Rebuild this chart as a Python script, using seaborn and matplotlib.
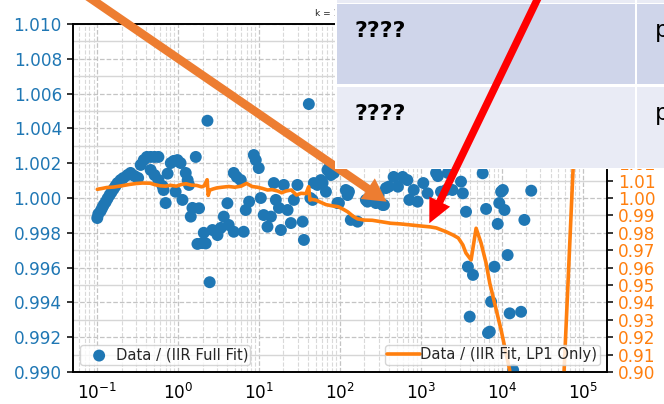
import matplotlib
matplotlib.use("Agg")
import matplotlib.pyplot as plt
import seaborn as sns
import numpy as np
from matplotlib.ticker import MultipleLocator, FormatStrFormatter, LogLocator, NullFormatter
from matplotlib.patches import Rectangle, FancyArrow

# ---------------- data ----------------
x_full = [0.100, 0.103, 0.110, 0.115, 0.120, 0.127, 0.134, 0.142, 0.150, 0.159,
          0.168, 0.178, 0.194, 0.210, 0.237, 0.258, 0.290, 0.320, 0.344, 0.375,
          0.410, 0.457, 0.510, 0.570, 0.457, 0.510, 0.570, 0.640, 0.660, 0.700,
          0.740, 0.810, 0.880, 0.980, 1.07, 0.93, 1.13, 1.24, 1.31, 1.36,
          1.43, 1.50, 1.65, 1.81, 1.73, 1.99, 2.07, 2.19, 2.30, 2.45,
          2.65, 3.06, 3.36, 3.66, 4.06, 4.21, 4.86, 5.30, 5.94, 4.86,
          6.45, 6.84, 7.53, 8.60, 9.10, 9.90, 10.5, 11.4, 12.7, 14.0,
          15.2, 16.1, 17.6, 18.6, 20.2, 22.5, 24.7, 26.9, 29.8, 34.5,
          35.8, 41.2, 43.0, 45.8, 47.5, 52.5, 58.0, 60.9, 67.0, 70.0,
          73.0, 77.0, 84.0, 93.0, 97.0, 118, 124, 129, 136, 165,
          209, 219, 241, 278, 300, 336, 349, 370, 400, 460,
          520, 595, 680, 720, 815, 910, 1070, 1210, 1540, 1620,
          1770, 2050, 2150, 2450, 3130, 3300, 3610, 3810, 4400, 4010,
          5800, 6390, 6750, 7100, 7370, 8100, 8900, 9300, 9800, 10300,
          10800, 11800, 12500, 13800, 17300, 19000, 23100]
y_full = [0.99885, 0.99908, 0.99925, 0.99943, 0.99960, 0.99977, 0.99997, 1.00017, 1.00034, 1.00052,
          1.00069, 1.00086, 1.00103, 1.00115, 1.00132, 1.00144, 1.00126, 1.00115, 1.00190, 1.00218,
          1.00236, 1.00236, 1.00236, 1.00236, 1.00161, 1.00132, 1.00103, 1.00069, 1.00046, 0.99971,
          1.00140, 1.00201, 1.00213, 1.00218, 1.00201, 1.00036, 0.99989, 1.00144, 1.00103, 1.00075,
          0.99893, 0.99943, 1.00236, 0.99941, 0.99736, 0.99741, 0.99800, 0.99739, 1.00444, 0.99516,
          0.99816, 0.99787, 0.99828, 0.99893, 0.99970, 0.99845, 1.00144, 1.00121, 1.00103, 0.99806,
          0.99806, 0.99931, 0.99979, 1.00247, 1.00218, 1.00172, 1.00000, 0.99902, 0.99835, 0.99893,
          1.00086, 0.99989, 0.99943, 0.99816, 1.00075, 0.99931, 0.99856, 0.99989, 1.00075, 0.99864,
          0.99759, 1.00540, 1.00000, 0.99989, 1.00086, 1.00075, 1.00103, 1.00086, 1.00036, 1.00161,
          1.00172, 1.00132, 1.00144, 0.99971, 0.99971, 1.00046, 1.00017, 1.00036, 0.99874, 0.99864,
          0.99989, 0.99979, 0.99989, 0.99971, 1.00017, 0.99960, 0.99960, 1.00057, 1.00065, 1.00121,
          1.00065, 1.00121, 1.00103, 0.99989, 1.00046, 0.99979, 1.00086, 1.00027, 1.00144, 1.00126,
          1.00036, 1.00046, 1.00144, 1.00046, 1.00094, 1.00027, 0.99921, 0.99605, 0.99558, 0.99318,
          1.00142, 0.99937, 0.99224, 0.99232, 0.99404, 0.99605, 0.99851, 0.99971, 1.00036, 1.00046,
          0.99931, 0.99672, 0.99337, 0.99011, 0.99346, 0.99874, 1.00042]

x_lp1 = [0.100, 0.115, 0.13, 0.16, 0.2, 0.25, 0.3, 0.36, 0.45, 0.52,
         0.6, 0.7, 0.8, 0.95, 1.1, 1.25, 1.45, 1.7, 1.95, 2.1,
         2.28, 2.35, 2.45, 2.7, 3.0, 3.5, 4.2, 5.0, 6.0, 7.0,
         8.2, 9.5, 11, 12.7, 14.5, 17, 19, 21.5, 25, 29,
         33, 38, 41, 42.5, 45, 50, 58, 67, 80, 95,
         110, 125, 145, 165, 200, 250, 320, 420, 560, 750,
         1000, 1300, 1550, 2050, 2500, 2900, 3300, 3600, 4170, 4810,
         5540, 6390, 7100, 8150, 9800, 12500, 16000, 25000, 40000, 58500,
         80000, 100000]
y_lp1 = [1.0050, 1.0055, 1.0060, 1.0063, 1.0070, 1.0078, 1.0083, 1.0086, 1.0085, 1.0076,
         1.0070, 1.0068, 1.0073, 1.0068, 1.0078, 1.0082, 1.0074, 1.0072, 1.0064, 1.0070,
         1.0105, 1.0015, 1.0045, 1.0052, 1.0058, 1.0062, 1.0066, 1.0062, 1.0068, 1.0084,
         1.0066, 1.0062, 1.0055, 1.0046, 1.0048, 1.0040, 1.0030, 1.0040, 1.0046, 1.0017,
         1.0027, 1.0025, 1.0065, 0.9988, 0.9992, 0.9988, 0.9975, 0.9962, 0.9955, 0.9950,
         0.9935, 0.9920, 0.9895, 0.9880, 0.9873, 0.9872, 0.9864, 0.9855, 0.9851, 0.9845,
         0.9839, 0.9834, 0.9828, 0.9806, 0.9787, 0.9770, 0.9730, 0.9684, 0.9644, 0.9826,
         0.9741, 0.9626, 0.9510, 0.9395, 0.9241, 0.9011, 0.8600, 0.8000, 0.8200, 0.8980,
         1.0400, 1.1500]

x_ticks = [0.1, 1, 10, 100, 1000, 10000, 100000]

label_full = "Data / (IIR Full Fit)"
label_lp1 = "Data / (IIR Fit, LP1 Only)"
title_text = "k = 1.2345"
table_col1 = ["????", "????"]
table_col2 = ["p", "p"]

BLUE = "#1f77b4"
ORANGE = "#ff7f0e"

sns.set_style("white")
plt.rcParams["font.family"] = ["DejaVu Sans"]
plt.rcParams["axes.edgecolor"] = "black"
plt.rcParams["axes.linewidth"] = 1.2
plt.rcParams["xtick.color"] = "black"
plt.rcParams["ytick.color"] = "black"

fig = plt.figure(figsize=(6.64, 4.04), dpi=100)
fig.patch.set_facecolor("white")
ax = fig.add_axes([73 / 664, 32 / 404, 534 / 664, 348 / 404])
ax2 = ax.twinx()

sns.scatterplot(x=x_full, y=y_full, ax=ax, s=74, color=BLUE, edgecolor="none",
                linewidth=0, label=label_full, zorder=3)
sns.lineplot(x=x_lp1, y=y_lp1, ax=ax2, color=ORANGE, lw=2.6, label=label_lp1,
             sort=False, estimator=None)

ax.set_xscale("log")
ax.set_xticks(x_ticks)
ax.xaxis.set_minor_locator(LogLocator(base=10, subs=np.arange(2, 10), numticks=100))
ax.xaxis.set_minor_formatter(NullFormatter())

ax.set_ylim(0.990, 1.010)
ax.yaxis.set_major_locator(MultipleLocator(0.002))
ax.yaxis.set_minor_locator(MultipleLocator(0.001))
ax.yaxis.set_major_formatter(FormatStrFormatter("%.3f"))
ax2.set_ylim(0.90, 1.10)
ax2.yaxis.set_major_locator(MultipleLocator(0.01))
ax2.yaxis.set_major_formatter(FormatStrFormatter("%.2f"))

ax.tick_params(axis="both", which="major", labelsize=12.2, length=4.5, width=1.1, direction="out")
ax.tick_params(axis="x", which="minor", length=2.5, width=0.8)
ax.tick_params(axis="y", which="minor", length=0)
ax.tick_params(axis="y", labelcolor=BLUE)
ax2.tick_params(axis="y", which="major", labelsize=12.2, length=4.5, width=1.1,
                direction="out", labelcolor=ORANGE)

ax.grid(True, which="major", axis="both", ls="--", color="#c4c4c4", lw=0.9)
ax.grid(True, which="minor", axis="x", ls="--", color="#d9d9d9", lw=0.8)
ax.grid(True, which="minor", axis="y", ls="-", color="#d6d6d6", lw=1.0)
ax.set_axisbelow(True)
ax2.grid(False)

for a in (ax, ax2):
    a.set_xlabel("")
    a.set_ylabel("")
    for sp in a.spines.values():
        sp.set_visible(True)
        sp.set_color("black")
        sp.set_linewidth(1.2)

ax.set_title(title_text, fontsize=6.5, color="#222222", pad=6)

leg_kw = dict(fontsize=10.6, handlelength=2.25, handletextpad=0.0, borderpad=0.15,
              borderaxespad=0.5, framealpha=0.8)
ax.legend(loc="lower left", **leg_kw)
ax2.legend(loc="lower right", **leg_kw)

# ---------------- overlay: table and arrows (pixel coordinates) ----------------
ov = fig.add_axes([0, 0, 1, 1], zorder=10)
ov.set_xlim(0, 664)
ov.set_ylim(404, 0)
ov.axis("off")
ov.set_facecolor("none")

ov.add_patch(FancyArrow(40, -36.3, 346.7, 238, width=8.5, head_width=25, head_length=23,
                        length_includes_head=True, color="#ED7D31", lw=0))

ov.add_patch(Rectangle((335, -5), 340, 173.5, facecolor="white", edgecolor="none"))
col_x = [337, 637.3]
col_w = [297.5, 40]
row_y = [-80, 4.2, 86.7]
row_h = [83, 80, 80.8]
row_c = ["#E9EBF5", "#CFD5EA", "#E9EBF5"]
for yy, hh, cc in zip(row_y, row_h, row_c):
    for xx, ww in zip(col_x, col_w):
        ov.add_patch(Rectangle((xx, yy), ww, hh, facecolor=cc, edgecolor="none"))

baselines = [37, 120]
for b, t1, t2 in zip(baselines, table_col1, table_col2):
    ov.text(355, b, t1, fontsize=16, fontweight="bold", family="DejaVu Sans",
            va="baseline", ha="left", color="black")
    ov.text(655, b, t2, fontsize=16.5, family="DejaVu Sans",
            va="baseline", ha="left", color="black")

ov.add_patch(FancyArrow(551.5, -30, -122.2, 253.3, width=7.5, head_width=23, head_length=24,
                        length_includes_head=True, color="red", lw=0))

fig.savefig("out.png", dpi=100, facecolor="white")
